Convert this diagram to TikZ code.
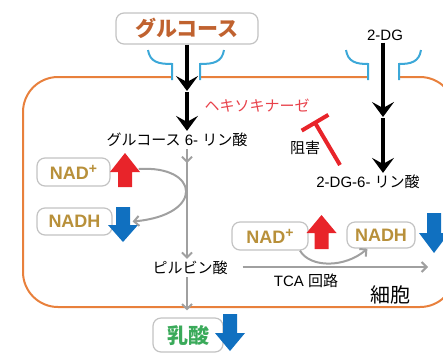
\documentclass[tikz,border=0pt]{standalone}
\usepackage{fontspec}
\setmainfont{Liberation Sans}
\newfontfamily\jp{Noto Sans CJK JP}
\usetikzlibrary{arrows.meta,calc}

\definecolor{membrane}{RGB}{232,128,60}
\definecolor{porterblue}{RGB}{60,168,216}
\definecolor{glcbrown}{RGB}{192,98,47}
\definecolor{upred}{RGB}{232,36,42}
\definecolor{downblue}{RGB}{16,112,192}
\definecolor{nadgold}{RGB}{184,144,58}
\definecolor{lacgreen}{RGB}{58,170,90}
\definecolor{hkred}{RGB}{232,65,74}
\definecolor{flowgray}{RGB}{160,160,160}
\definecolor{boxline}{RGB}{195,195,195}

% fat up/down arrow: colour, centre x, tip y, head y, tail y
\newcommand{\fatarr}[5]{%
  \fill[#1] (#2-7,#5) -- (#2-7,#4) -- (#2-15,#4) -- (#2,#3)
            -- (#2+15,#4) -- (#2+7,#4) -- (#2+7,#5) -- cycle;}
\newcommand{\plussup}{\raisebox{6pt}{\fontsize{14}{14}\selectfont +}}

\tikzset{
  txt/.style={inner sep=2pt, font=\fontsize{15}{17}\selectfont},
  mol/.style={draw=boxline, line width=1.2pt, rounded corners=8pt, fill=white, inner sep=0pt},
  nad/.style={mol, text=nadgold, font=\bfseries\fontsize{18}{20}\selectfont},
  uptake/.style={line width=4pt, -{Stealth[length=15pt,width=22pt,inset=6pt]}},
  flow/.style={draw=flowgray, line width=2pt, -{Straight Barb[length=5pt,width=10pt]}},
  porter/.style={draw=porterblue, line width=2pt},
  inhib/.style={draw=upred, line width=4pt, -{Bar[width=31pt]}},
}

\begin{document}
\begin{tikzpicture}[x=1pt,y=-1pt]
\clip (0,0) rectangle (443,354);

% cell membrane with two openings
\draw[membrane, line width=2pt, rounded corners=35pt] (23,77) rectangle (455,307);
\fill[white] (172,72) rectangle (200,82);
\fill[white] (368,72) rectangle (399,82);

% transporters
\draw[porter] (148,50) .. controls (150,62) and (158,64) .. (172,64) -- (172,80);
\draw[porter] (224,50) .. controls (222,62) and (214,64) .. (200,64) -- (200,80);
\draw[porter] (346,50) .. controls (348,62) and (356,64) .. (368,64) -- (368,80);
\draw[porter] (421,50) .. controls (419,62) and (411,64) .. (399,64) -- (399,80);

% molecules
\node[mol, minimum width=142pt, minimum height=31pt, text=glcbrown,
      font=\jp\bfseries\fontsize{21}{24}\selectfont] (glucose) at (187,28.5) {グルコース};
\node[txt] (g6p) at (177,140) {{\jp グルコース} 6- {\jp リン酸}};
\node[txt] (pyr) at (190,268) {\jp ピルビン酸};
\node[mol, minimum width=70pt, minimum height=34pt, text=lacgreen,
      font=\jp\bfseries\fontsize{21}{24}\selectfont] (lac) at (188,335) {乳酸};
\node[txt] (dg) at (385,35) {2-DG};
\node[txt] (dg6p) at (368,182) {2-DG-6- {\jp リン酸}};

\node[nad, minimum width=73pt, minimum height=28pt] (nadL) at (73.5,172) {NAD\plussup};
\node[nad, minimum width=75pt, minimum height=27pt] (nadhL) at (74.5,221.5) {NADH};
\node[nad, minimum width=76pt, minimum height=28pt] (nadR) at (270,236) {NAD\plussup};
\node[nad, minimum width=68pt, minimum height=26pt] (nadhR) at (381,235) {NADH};

% labels
\node[txt, text=hkred] (hk) at (257,106) {\jp ヘキソキナーゼ};
\node[txt] (inh) at (305,148) {\jp 阻害};
\node[txt] (tca) at (306,281) {TCA {\jp 回路}};
\node[txt, font=\jp\fontsize{20}{22}\selectfont] (cell) at (390,295) {細胞};

% uptake
\coordinate (gmid) at (187,91);
\coordinate (dmid) at (383,117);
\draw[uptake] (glucose.south) -- (gmid);
\draw[uptake] ([yshift=-1pt]gmid) -- (gmid |- g6p.north);
\draw[uptake] (dmid |- dg.south) -- (dmid);
\draw[uptake] ([yshift=-1pt]dmid) -- (dmid |- dg6p.north);

% glycolysis
\draw[flow] (gmid |- g6p.south) -- ++(0,14);
\draw[flow] (gmid |- g6p.south) -- (gmid |- pyr.north);
\draw[flow, shorten >=7pt] (gmid |- pyr.south) -- (gmid |- lac.north);
\coordinate (tcaend) at (428,267);
\draw[flow, shorten <=13pt] (pyr.east |- tcaend) -- (tcaend);

% NAD+ / NADH
\fatarr{upred}{125}{153}{172}{187}
\fatarr{downblue}{123}{242}{225}{207}
\fatarr{upred}{321.5}{215}{233}{249}
\fatarr{downblue}{434}{253}{233}{213}
\fatarr{downblue}{230}{351}{333}{314}
\draw[flow] ($(nadL.east)+(28,-3)$) .. controls (200,165) and (205,215) .. ($(nadhL.east)+(20,0)$);
\draw[flow] ($(nadR.south)+(30,0)$) .. controls (310,268) and (345,268) .. ($(nadhR.south west)+(21,0)$);

% inhibition of hexokinase
\coordinate (inhfrom) at (340,165);
\coordinate (inhto) at (314,121);
\draw[inhib] (inhfrom) -- (inhto);
\end{tikzpicture}
\end{document}
